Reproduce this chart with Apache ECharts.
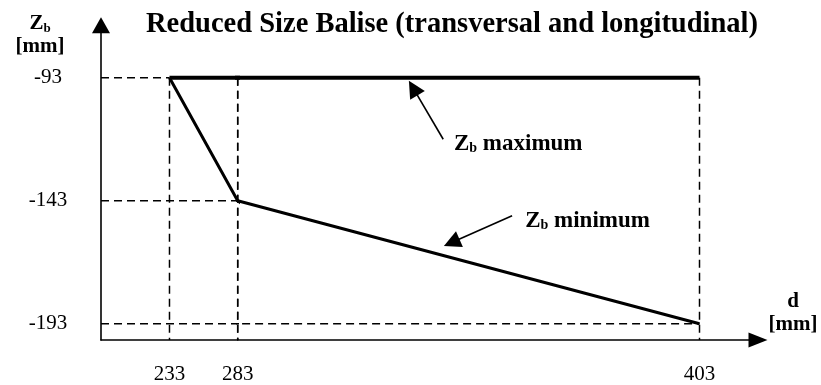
<!DOCTYPE html>
<html>
<head>
<meta charset="utf-8">
<script src="https://cdn.jsdelivr.net/npm/echarts@6/dist/echarts.min.js"></script>
<style>
  html, body { margin: 0; padding: 0; background: #fff; }
  #chart { width: 821px; height: 385px; }
</style>
</head>
<body>
<div id="chart"></div>
<script>
// Zb limits of the reduced size balise as a function of the distance d
const distances = [233, 283, 403];       // d [mm], corner points of the minimum curve
const zbMinimum = [-93, -143, -193];     // Zb minimum [mm]
const maxDistances = [233, 403];         // d [mm], extent of the maximum curve
const zbMaximum = [-93, -93];            // Zb maximum [mm]
const xTickValues = [233, 283, 403];
const yTickValues = [-93, -143, -193];

// The d axis is drawn in two linear sections (not to scale), split at 283 mm
const breakAt = 283;
const xRanges = [[182.8, breakAt], [breakAt, 418.2]];
const yRange = [-199.6, -71.7];

// Annotation anchors, in data units of the right-hand section
const notes = {
  maximum: { text: ' maximum', label: [339.2, -120.0], from: [336.4, -118.0], to: [328.6, -97.2] },
  minimum: { text: ' minimum', label: [357.7, -151.1], from: [354.3, -149.1], to: [338.6, -160.0] }
};

const FONT = 'Liberation Serif';
const INK = '#000';

const grids = [
  { left: 101, top: 25.3, width: 136.7, height: 316.7 },
  { left: 237.7, top: 25.3, width: 520.3, height: 316.7 }
];

const xAxes = xRanges.map((r, g) => ({
  type: 'value',
  gridIndex: g,
  min: r[0],
  max: r[1],
  axisLine: {
    show: true,
    onZero: false,
    symbol: g === 1 ? ['none', 'triangle'] : ['none', 'none'],
    symbolSize: [15, 19],
    lineStyle: { color: INK, width: 1.6 }
  },
  axisTick: { show: false },
  splitLine: { show: false },
  axisLabel: {
    customValues: xTickValues.filter(v => g === 0 ? v <= breakAt : v > breakAt),
    margin: 24,
    fontFamily: FONT,
    fontSize: 21,
    color: INK
  }
}));

const yAxes = [0, 1].map(g => ({
  type: 'value',
  gridIndex: g,
  min: yRange[0],
  max: yRange[1],
  show: g === 0,
  axisLine: {
    show: true,
    onZero: false,
    symbol: ['none', 'triangle'],
    symbolSize: [18, 16],
    lineStyle: { color: INK, width: 1.6 }
  },
  axisTick: { show: false },
  splitLine: { show: false },
  axisLabel: {
    customValues: yTickValues,
    align: 'center',
    margin: 53,
    fontFamily: FONT,
    fontSize: 21,
    color: INK
  }
}));

const zbRich = {
  z: { fontFamily: FONT, fontWeight: 'bold', fontSize: 23, color: INK },
  s: { fontFamily: FONT, fontWeight: 'bold', fontSize: 14, color: INK, verticalAlign: 'bottom' },
  t: { fontFamily: FONT, fontWeight: 'bold', fontSize: 23, color: INK }
};

function sectionSeries(g) {
  const list = [];
  const dashed = { color: INK, width: 1.5, type: [8, 5] };
  // dashed reference lines from each corner point to both axes
  distances.forEach((d, i) => {
    list.push({
      type: 'line', xAxisIndex: g, yAxisIndex: g, silent: true, showSymbol: false,
      lineStyle: dashed, z: 1,
      data: [[xRanges[0][0], zbMinimum[i]], [d, zbMinimum[i]]]
    });
    list.push({
      type: 'line', xAxisIndex: g, yAxisIndex: g, silent: true, showSymbol: false,
      lineStyle: dashed, z: 1,
      data: [[d, zbMaximum[0]], [d, yRange[0]]]
    });
  });
  list.push({
    name: 'Zb minimum', type: 'line', xAxisIndex: g, yAxisIndex: g, silent: true,
    showSymbol: false, z: 3,
    lineStyle: { color: INK, width: 3 },
    data: distances.map((d, i) => [d, zbMinimum[i]])
  });
  const maxSeries = {
    name: 'Zb maximum', type: 'line', xAxisIndex: g, yAxisIndex: g, silent: true,
    showSymbol: false, z: 3,
    lineStyle: { color: INK, width: 4 },
    data: maxDistances.map((d, i) => [d, zbMaximum[i]])
  };
  if (g === 1) {
    const keys = Object.keys(notes);
    maxSeries.markLine = {
      silent: true,
      animation: false,
      symbol: ['none', 'triangle'],
      symbolSize: 17,
      label: { show: false },
      lineStyle: { color: INK, width: 1.6, type: 'solid' },
      data: keys.map(k => [{ coord: notes[k].from }, { coord: notes[k].to }])
    };
    maxSeries.markPoint = {
      silent: true,
      animation: false,
      symbol: 'rect',
      symbolSize: 0,
      label: {
        show: true,
        position: 'right',
        distance: 0,
        formatter: p => '{z|Z}{s|b}{t|' + notes[p.name].text + '}',
        rich: zbRich
      },
      data: keys.map(k => ({ name: k, coord: notes[k].label }))
    };
  }
  list.push(maxSeries);
  return list;
}

const chart = echarts.init(document.getElementById('chart'), null, { renderer: 'canvas' });
chart.setOption({
  animation: false,
  backgroundColor: '#fff',
  title: {
    text: 'Reduced Size Balise (transversal and longitudinal)',
    left: 146,
    top: 10,
    padding: 0,
    textStyle: { fontFamily: FONT, fontWeight: 'bold', fontSize: 28.5, color: INK }
  },
  grid: grids,
  xAxis: xAxes,
  yAxis: yAxes,
  series: [].concat(sectionSeries(0), sectionSeries(1)),
  graphic: [
    {
      type: 'text', x: 40, y: 35, silent: true,
      style: {
        text: '{z|Z}{s|b}\n{t|[mm]}',
        rich: {
          z: { fontFamily: FONT, fontWeight: 'bold', fontSize: 21, color: INK, lineHeight: 23 },
          s: { fontFamily: FONT, fontWeight: 'bold', fontSize: 13, color: INK, verticalAlign: 'bottom' },
          t: { fontFamily: FONT, fontWeight: 'bold', fontSize: 21, color: INK, lineHeight: 23 }
        },
        align: 'center', verticalAlign: 'middle',
        textAlign: 'center', textVerticalAlign: 'middle'
      }
    },
    {
      type: 'text', x: 793, y: 313, silent: true,
      style: {
        text: 'd\n[mm]',
        font: 'bold 21px "Liberation Serif"',
        lineHeight: 23,
        fill: INK,
        align: 'center', verticalAlign: 'middle',
        textAlign: 'center', textVerticalAlign: 'middle'
      }
    }
  ]
});
</script>
</body>
</html>
